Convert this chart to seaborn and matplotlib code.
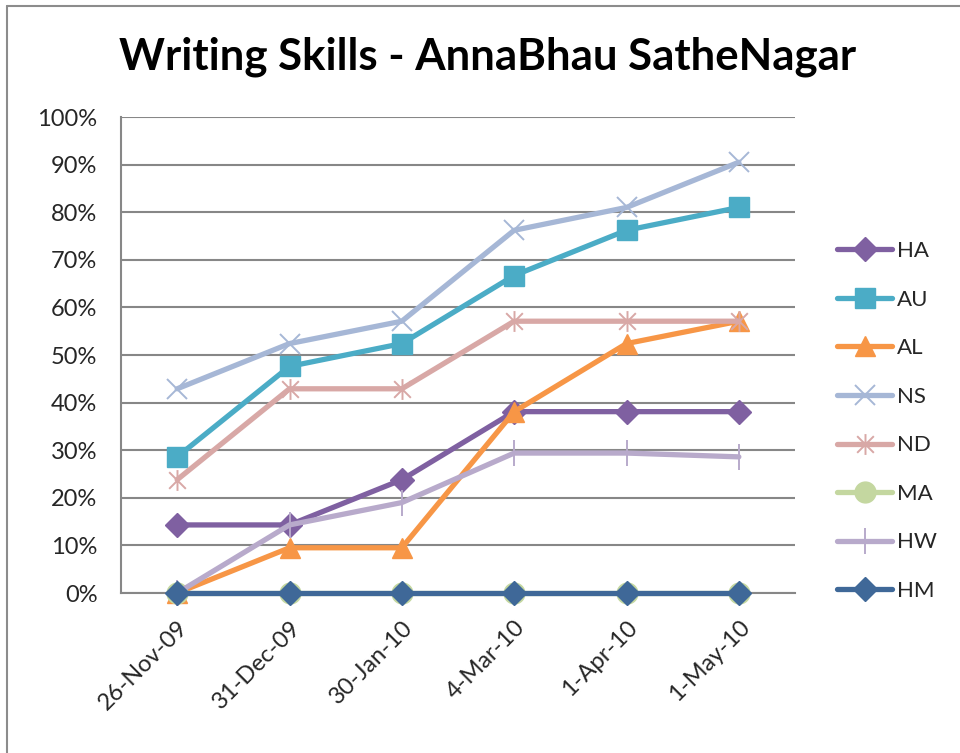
import numpy as np
import pandas as pd
import seaborn as sns
import matplotlib
matplotlib.use("Agg")
import matplotlib.pyplot as plt
from matplotlib.path import Path
from matplotlib.lines import Line2D
from matplotlib.ticker import PercentFormatter, FixedLocator

# ---- data ----
dates = ["26-Nov-09", "31-Dec-09", "30-Jan-10", "4-Mar-10", "1-Apr-10", "1-May-10"]
HA = [0.143, 0.143, 0.238, 0.381, 0.381, 0.381]
AU = [0.286, 0.476, 0.524, 0.667, 0.762, 0.810]
AL = [0.0, 0.095, 0.095, 0.381, 0.524, 0.571]
NS = [0.429, 0.524, 0.571, 0.762, 0.810, 0.905]
ND = [0.238, 0.429, 0.429, 0.571, 0.571, 0.571]
MA = [0.0, 0.0, 0.0, 0.0, 0.0, 0.0]
HW = [0.0, 0.143, 0.190, 0.294, 0.294, 0.286]
HM = [0.0, 0.0, 0.0, 0.0, 0.0, 0.0]
series_names = ["HA", "AU", "AL", "NS", "ND", "MA", "HW", "HM"]
series_values = [HA, AU, AL, NS, ND, MA, HW, HM]
title = "Writing Skills - AnnaBhau SatheNagar"

rows = []
for name, vals in zip(series_names, series_values):
    for i, (d, v) in enumerate(zip(dates, vals)):
        rows.append({"series": name, "date": d, "pos": i, "value": v})
df = pd.DataFrame(rows)

# ---- style ----
sns.set_style("white")
plt.rcParams["font.family"] = ["Lato", "DejaVu Sans"]

star = Path([(-1, -1), (1, 1), (-1, 1), (1, -1), (0, -1.25), (0, 1.25)],
            [Path.MOVETO, Path.LINETO, Path.MOVETO, Path.LINETO, Path.MOVETO, Path.LINETO])

styles = {
    "HA": dict(color="#7F60A1", marker="D", ms=12.5, mew=1),
    "AU": dict(color="#4BACC6", marker="s", ms=14.5, mew=1),
    "AL": dict(color="#F79646", marker="^", ms=15, mew=1),
    "NS": dict(color="#A6B7D6", marker="x", ms=14, mew=1.4),
    "ND": dict(color="#D8A8A6", marker=star, ms=15, mew=1.4),
    "MA": dict(color="#C4D7A0", marker="o", ms=15, mew=1),
    "HW": dict(color="#B8AACB", marker="|", ms=19, mew=1.4),
    "HM": dict(color="#3F6898", marker="D", ms=12.5, mew=1),
}

fig = plt.figure(figsize=(9.6, 7.53), dpi=100)
ax = fig.add_axes([121 / 960, 1 - 593 / 753, (795 - 121) / 960, (593 - 117) / 753])

for name in series_names:
    st = styles[name]
    sns.lineplot(data=df[df["series"] == name], x="pos", y="value", ax=ax,
                 color=st["color"], marker=st["marker"], markersize=st["ms"],
                 markeredgecolor=st["color"], markerfacecolor=st["color"],
                 markeredgewidth=st["mew"], linewidth=3.8, label=name,
                 errorbar=None, solid_capstyle="round", zorder=3, clip_on=False)

ax.set_xlim(-0.5, len(dates) - 0.5)
ax.set_ylim(0, 1.0)
ax.yaxis.set_major_locator(FixedLocator(np.arange(0, 1.01, 0.1)))
ax.yaxis.set_major_formatter(PercentFormatter(1.0, decimals=0))
ax.grid(axis="y", color="#878787", linewidth=1.5)
ax.set_axisbelow(True)

ax.set_xticks(range(len(dates)))
ax.set_xticklabels(dates, rotation=45, ha="right", va="top", rotation_mode="anchor")
ax.set_xticks(np.arange(-0.5, len(dates), 1.0), minor=True)
ax.tick_params(axis="x", which="major", length=0, pad=17, labelsize=17)
ax.tick_params(axis="x", which="minor", length=7, width=1.5, color="#878787", direction="out")
ax.tick_params(axis="y", length=7, width=1.5, color="#878787", direction="out", labelsize=17, pad=10)
ax.set_xlabel("")
ax.set_ylabel("")

for s in ["top", "right"]:
    ax.spines[s].set_visible(False)
for s in ["left", "bottom"]:
    ax.spines[s].set_color("#878787")
    ax.spines[s].set_linewidth(1.5)

fig.text(488 / 960, 1 - 57 / 753, title, ha="center", va="center",
         fontsize=31.5, fontweight="bold", color="black")

leg = ax.legend(loc="center left", bbox_to_anchor=(828 / 960, 1 - 421 / 753),
                bbox_transform=fig.transFigure, frameon=False, fontsize=16,
                handlelength=2.5, labelspacing=1.285, handletextpad=0.22,
                borderaxespad=0, numpoints=1)

# outer frame (left and top edges visible)
fig.add_artist(Line2D([7 / 960, 7 / 960], [0, 1 - 6 / 753], color="#8C8C8C", lw=1.5,
                      transform=fig.transFigure))
fig.add_artist(Line2D([7 / 960, 1], [1 - 6 / 753, 1 - 6 / 753], color="#8C8C8C", lw=1.5,
                      transform=fig.transFigure))

fig.savefig("out.png", dpi=100)
